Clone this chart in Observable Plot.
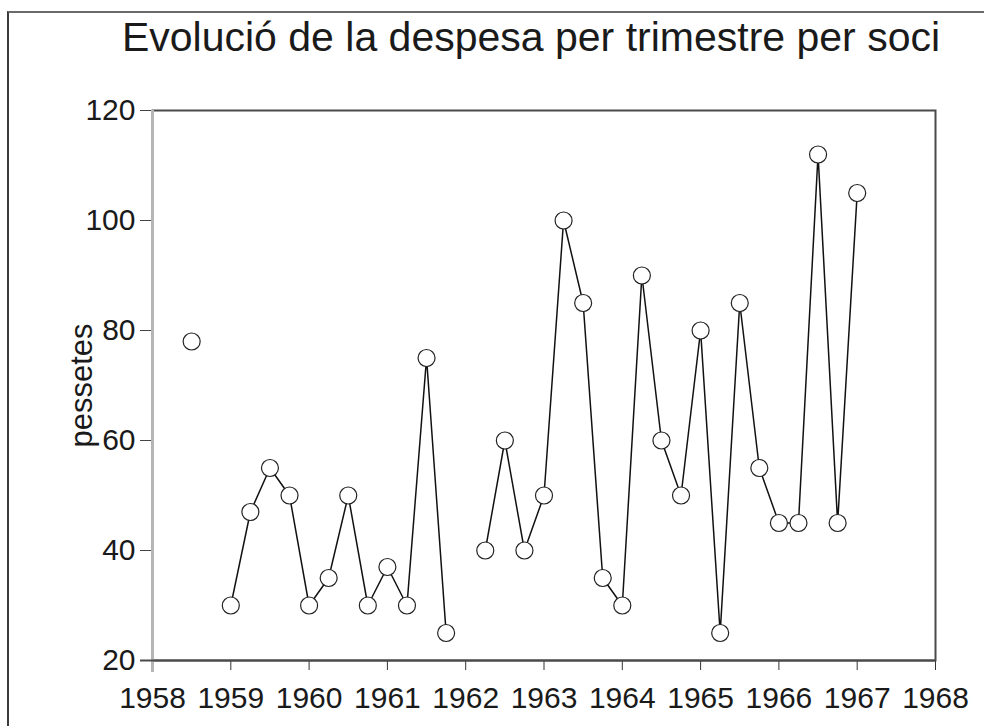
<!DOCTYPE html>
<html>
<head>
<meta charset="utf-8">
<script src="https://cdn.jsdelivr.net/npm/d3@7"></script>
<script src="https://cdn.jsdelivr.net/npm/@observablehq/plot@0.6"></script>
<style>
  html, body { margin: 0; padding: 0; background: #fff; }
  #wrap { position: relative; width: 984px; height: 726px; overflow: hidden; background: #fff; font-family: "Liberation Sans", Arial, sans-serif; }
  #border { position: absolute; left: 7px; top: 11px; width: 1000px; height: 1000px; border-top: 2px solid #6a6a6a; border-left: 2px solid #3a3a3a; }
  #title { position: absolute; top: 17px; left: 531px; transform: translateX(-50%); white-space: nowrap; font-size: 41px; line-height: 41px; color: #1a1a1a; }
  #chart { position: absolute; left: 0; top: 80px; }
</style>
</head>
<body>
<div id="wrap">
  <div id="border"></div>
  <div id="title">Evolució de la despesa per trimestre per soci</div>
  <div id="chart"></div>
</div>
<script>
const titleText = "Evolució de la despesa per trimestre per soci";
const yLabel = "pessetes";
// quarter positions (year + fraction) and spend per member (pessetes); null = missing quarter
const quarters = [1958.5, 1958.75, 1959.0, 1959.25, 1959.5, 1959.75, 1960.0, 1960.25, 1960.5, 1960.75,
  1961.0, 1961.25, 1961.5, 1961.75, 1962.0, 1962.25, 1962.5, 1962.75, 1963.0, 1963.25, 1963.5, 1963.75,
  1964.0, 1964.25, 1964.5, 1964.75, 1965.0, 1965.25, 1965.5, 1965.75, 1966.0, 1966.25, 1966.5, 1966.75, 1967.0];
const pessetes = [78, null, 30, 47, 55, 50, 30, 35, 50, 30,
  37, 30, 75, 25, null, 40, 60, 40, 50, 100, 85, 35,
  30, 90, 60, 50, 80, 25, 85, 55, 45, 45, 112, 45, 105];
const xTicks = [1958, 1959, 1960, 1961, 1962, 1963, 1964, 1965, 1966, 1967, 1968];
const yTicks = [20, 40, 60, 80, 100, 120];

const data = quarters.map((q, i) => ({x: q, y: pessetes[i] == null ? undefined : pessetes[i]}));
const pts = data.filter(d => d.y !== undefined);

const chart = Plot.plot({
  width: 984,
  height: 646,
  marginTop: 30,
  marginBottom: 66,
  marginLeft: 152,
  marginRight: 49,
  style: {fontFamily: "Liberation Sans, Arial, sans-serif", color: "#1a1a1a", background: "transparent"},
  x: {domain: [1958, 1968]},
  y: {domain: [20, 120]},
  marks: [
    Plot.axisX({ticks: xTicks, tickFormat: d => String(d), tickSize: 10, tickPadding: 16, fontSize: 30, label: null, stroke: "#333"}),
    Plot.axisY({ticks: yTicks, tickSize: 12, tickPadding: 5, fontSize: 30, label: null, stroke: "#444"}),
    Plot.frame({stroke: "#4a4a4a", strokeWidth: 2}),
    Plot.ruleX([1958], {stroke: "#b5b5b5", strokeWidth: 3, y1: 120, y2: 20, insetBottom: -12}),
    Plot.ruleY([20], {stroke: "#4a4a4a", strokeWidth: 2, insetLeft: -12}),
    Plot.text([yLabel], {frameAnchor: "left", textAnchor: "middle", dx: -70, rotate: -90, fontSize: 31, fill: "#1a1a1a"}),
    Plot.line(data, {x: "x", y: "y", stroke: "#111", strokeWidth: 1.5}),
    Plot.dot(pts, {x: "x", y: "y", r: 8.5, fill: "white", stroke: "#222", strokeWidth: 1.2})
  ]
});
document.getElementById("chart").appendChild(chart);
</script>
</body>
</html>
